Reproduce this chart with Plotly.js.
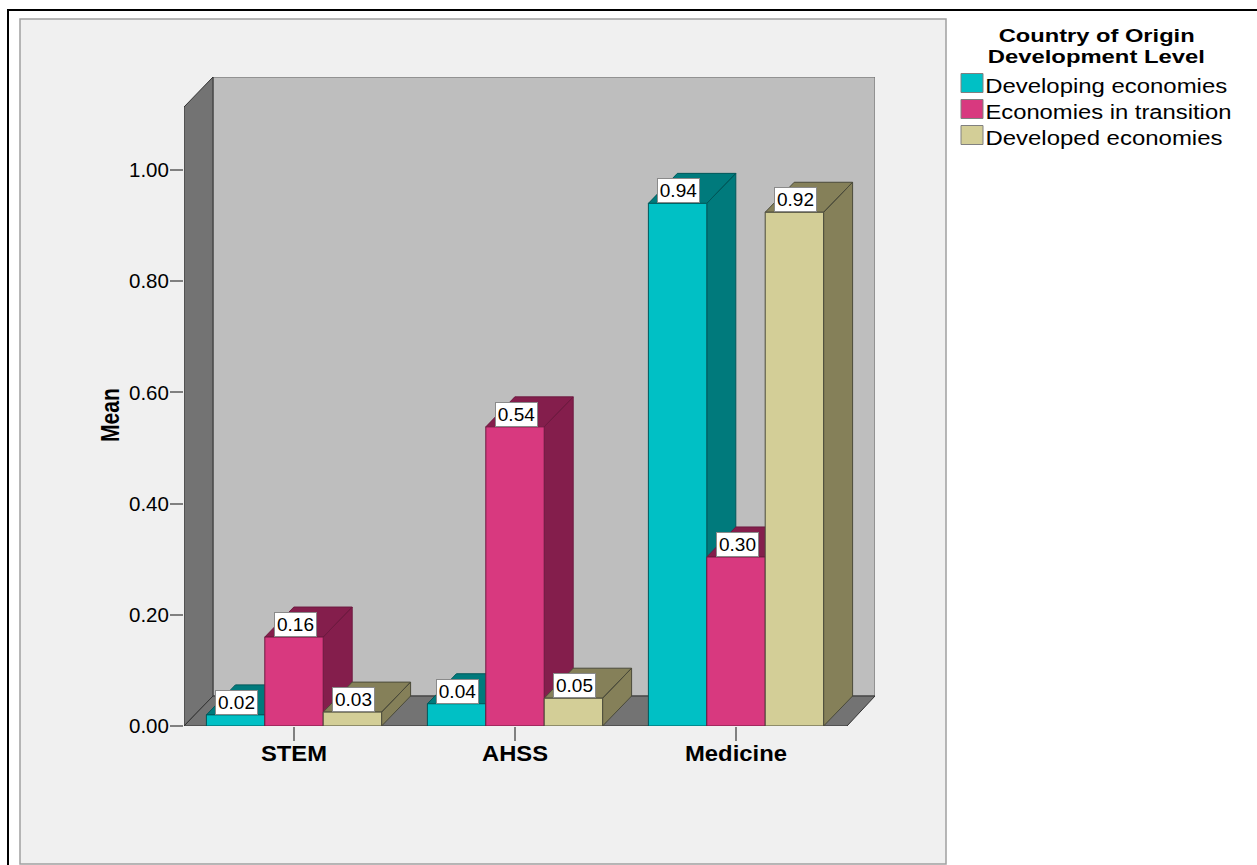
<!DOCTYPE html>
<html>
<head>
<meta charset="utf-8">
<script src="https://cdn.plot.ly/plotly-3.0.1.min.js"></script>
<style>
html,body{margin:0;padding:0;background:#fff;overflow:hidden}
#chart{width:1257px;height:865px}
</style>
</head>
<body>
<div id="chart"></div>
<script>
const categories = ['STEM', 'AHSS', 'Medicine'];
const seriesNames = ['Developing economies', 'Economies in transition', 'Developed economies'];
const developing = [0.02, 0.04, 0.94];
const transition = [0.16, 0.538, 0.304];
const developed = [0.025, 0.05, 0.924];
const yTicks = [0, 0.2, 0.4, 0.6, 0.8, 1];
const legendTitleLines = ['Country of Origin', 'Development Level'];
const yTitle = 'Mean';

const W = 1257, H = 865;
const seriesValues = [developing, transition, developed];
const frontColors = ['#00C0C5', '#D8397F', '#D3CE97'];
const sideColors = ['#007A7C', '#841E4C', '#858059'];
const edgeColors = ['#00585A', '#6E1A40', '#4A4A3A'];

// the reference is a horizontally stretched image: text widths in px
const textWidths = {
  'Country of Origin': 196, 'Development Level': 217,
  'Developing economies': 242, 'Economies in transition': 246, 'Developed economies': 237,
  'STEM': 66, 'AHSS': 66, 'Medicine': 102, 'Mean': 54
};

const FONT = '"Liberation Sans", Arial, sans-serif';
const px = x => x / W, py = y => 1 - y / H;

// axis calibration
const xPerPx = 1 / 221, yPerPx = 1 / 556;
const xRange = [(184 - 294) * xPerPx, (875 - 294) * xPerPx];
const yRange = [0, (726 - 77) * yPerPx];
const dx = 29 * xPerPx, dy = 30 * yPerPx;
const barW = 58.4 * xPerPx;
const floorEnd = (847 - 294) * xPerPx;
const catIdx = categories.map((_, i) => i);

const poly = (xs, ys, fill, line) => ({
  x: xs, y: ys, type: 'scatter', mode: 'lines', fill: 'toself', fillcolor: fill,
  line: {color: line, width: 1}, hoverinfo: 'skip', showlegend: false, cliponaxis: false
});

const wallL = xRange[0], wallR = xRange[1], wallTop = yRange[1];
const traces = [
  poly([wallL + dx, wallR, wallR, wallL + dx, wallL + dx], [dy, dy, wallTop, wallTop, dy], '#BEBEBE', '#666666'),
  poly([wallL, wallL + dx, wallL + dx, wallL, wallL], [0, dy, wallTop, wallTop - dy, 0], '#737373', '#333333'),
  poly([wallL, floorEnd, wallR, wallL + dx, wallL], [0, 0, dy, dy, 0], '#737373', '#333333')
];

// extruded sides and tops, painted series by series
seriesValues.forEach((vals, s) => {
  const xs = [], ys = [];
  vals.forEach((v, c) => {
    const l = c + (s - 1.5) * barW, r = l + barW;
    xs.push(r, r + dx, r + dx, r, r, null, l, l + dx, r + dx, r, l, null);
    ys.push(0, dy, v + dy, v, 0, null, v, v + dy, v + dy, v, v, null);
  });
  traces.push(poly(xs, ys, sideColors[s], edgeColors[s]));
});

// front faces on an overlaid pair of axes so they sit above the extrusions
seriesValues.forEach((vals, s) => {
  traces.push({
    type: 'bar', name: seriesNames[s], x: catIdx, y: vals, xaxis: 'x2', yaxis: 'y2',
    width: barW, offset: (s - 1.5) * barW,
    marker: {color: frontColors[s], line: {color: edgeColors[s], width: 1}},
    cliponaxis: false, hovertemplate: '%{y:.2f}<extra>' + seriesNames[s] + '</extra>'
  });
});

const annotations = [];
seriesValues.forEach((vals, s) => vals.forEach((v, c) => {
  annotations.push({
    x: c + (s - 1) * barW + 1 * xPerPx, y: v, xref: 'x', yref: 'y', yanchor: 'bottom', xanchor: 'center',
    text: v.toFixed(2), showarrow: false, bgcolor: '#FFFFFF', bordercolor: '#8A8A8A', borderwidth: 1,
    borderpad: 0, width: 41, height: 23, font: {family: FONT, size: 19, color: '#000'}
  });
}));
legendTitleLines.forEach((t, i) => annotations.push({
  x: px(1096), y: py(35 + 21.1 * i), xref: 'paper', yref: 'paper', xanchor: 'center', yanchor: 'middle',
  text: t, showarrow: false, borderpad: 0, font: {family: FONT, size: 18.3, color: '#000', weight: 700}
}));
annotations.push({
  x: px(110), y: py(415), xref: 'paper', yref: 'paper', xanchor: 'center', yanchor: 'middle', textangle: -90,
  text: yTitle, showarrow: false, font: {family: FONT, size: 25, color: '#000', weight: 700}
});
const shapes = [
  {type: 'path', xref: 'paper', yref: 'paper', layer: 'below',
   path: `M${px(8)},${py(866)} L${px(8)},${py(10)} L${px(1258)},${py(10)}`,
   line: {color: '#000', width: 2}},
  {type: 'rect', xref: 'paper', yref: 'paper', layer: 'below',
   x0: px(20), x1: px(946), y0: py(864), y1: py(19), fillcolor: '#F0F0F0', line: {color: '#A0A0A0', width: 1.5}}
];
seriesNames.forEach((n, i) => {
  const yc = 83 + 26 * i;
  shapes.push({type: 'rect', xref: 'paper', yref: 'paper', x0: px(961), x1: px(983), y0: py(yc + 9.5), y1: py(yc - 9.5),
    fillcolor: frontColors[i], line: {color: '#808080', width: 1}});
  annotations.push({x: px(985 + textWidths[n] / 2), y: py(yc + 2.5), xref: 'paper', yref: 'paper', xanchor: 'center', yanchor: 'middle',
    text: n, showarrow: false, font: {family: FONT, size: 20, color: '#000'}});
});

const layout = {
  width: W, height: H, margin: {l: 0, r: 0, t: 0, b: 0},
  paper_bgcolor: '#FFFFFF', plot_bgcolor: 'rgba(0,0,0,0)',
  showlegend: false, barmode: 'overlay', hovermode: 'closest',
  font: {family: FONT, color: '#000'},
  xaxis: {domain: [px(184), px(875)], range: xRange, tickmode: 'array', tickvals: catIdx, ticktext: categories,
    ticks: 'outside', ticklen: 14, tickwidth: 1.5, tickcolor: '#808080', showgrid: false, zeroline: false, showline: false,
    ticklabelstandoff: -6,
    tickfont: {family: FONT, size: 22, weight: 700, color: '#000'}},
  yaxis: {domain: [py(726), py(77)], range: yRange, tickmode: 'array', tickvals: yTicks, tickformat: '.2f',
    ticks: 'outside', ticklen: 13, tickwidth: 1.5, tickcolor: '#808080', showgrid: false, zeroline: false, showline: false,
    ticklabelstandoff: -3,
    tickfont: {family: FONT, size: 20.5, color: '#000'}},
  xaxis2: {domain: [px(184), px(875)], range: xRange, overlaying: 'x', visible: false, anchor: 'y2'},
  yaxis2: {domain: [py(726), py(77)], range: yRange, overlaying: 'y', visible: false, anchor: 'x2'},
  shapes, annotations
};
Plotly.newPlot('chart', traces, layout, {displayModeBar: false, responsive: false}).then(() => {
  document.querySelectorAll('#chart svg text').forEach(el => {
    const target = textWidths[el.textContent];
    if (target) {
      el.setAttribute('lengthAdjust', 'spacingAndGlyphs');
      el.setAttribute('textLength', target);
    }
  });
});
</script>
</body>
</html>
